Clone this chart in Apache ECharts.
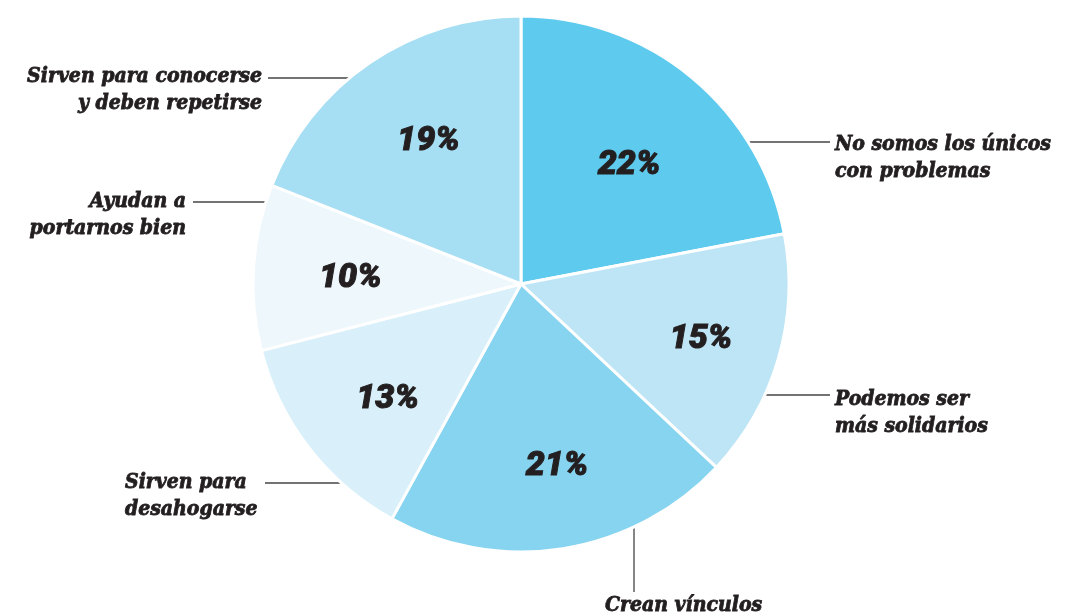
<!DOCTYPE html>
<html>
<head>
<meta charset="utf-8">
<script src="https://cdn.jsdelivr.net/npm/echarts@6/dist/echarts.min.js"></script>
<style>
  html, body { margin: 0; padding: 0; background: #ffffff; }
  #chart { width: 1065px; height: 614px; }
</style>
</head>
<body>
<div id="chart"></div>
<script>
// Answers, clockwise from 12 o'clock
const categories = [
  'No somos los únicos\ncon problemas',
  'Podemos ser\nmás solidarios',
  'Crean vínculos',
  'Sirven para\ndesahogarse',
  'Ayudan a\nportarnos bien',
  'Sirven para conocerse\ny deben repetirse'
];
const shares = [22, 15, 21, 13, 10, 19];
const sliceColors = ['#5ecbee', '#bee5f6', '#86d4f0', '#d9f0fa', '#eef7fc', '#a6def3'];

// Pie geometry
const CX = 521, CY = 284, R = 268;

// Where each caption sits and where its leader line runs
const captionPlacement = [
  { x: 835, y: 158, align: 'left',  line: 'h', at: 142, end: 830 },
  { x: 835, y: 413, align: 'left',  line: 'h', at: 395, end: 830 },
  { x: 605, y: 606, align: 'left',  line: 'v', at: 634, end: 592 },
  { x: 125, y: 496, align: 'left',  line: 'h', at: 483, end: 265 },
  { x: 186, y: 215, align: 'right', line: 'h', at: 202, end: 193 },
  { x: 262, y: 90,  align: 'right', line: 'h', at: 78,  end: 268 }
];

// Nudges for the percentage labels inside the slices
const percentOffsets = [[-6, 19], [8, 6], [8, 6], [8, 6], [8, 6], [8, 6]];

const captionFont = '"DejaVu Serif Condensed", "DejaVu Serif", serif';
const inkColor = '#231f20';

const pieData = categories.map((name, i) => ({
  name: name,
  value: shares[i],
  itemStyle: { color: sliceColors[i] }
}));

function leaderPoints(p) {
  if (p.line === 'v') {
    const dx = p.at - CX;
    const yEdge = CY + Math.sqrt(R * R - dx * dx);
    return [[p.at, yEdge], [p.at, (yEdge + p.end) / 2], [p.at, p.end]];
  }
  const dy = p.at - CY;
  const half = Math.sqrt(R * R - dy * dy);
  const xEdge = p.end > CX ? CX + half : CX - half;
  return [[xEdge, p.at], [(xEdge + p.end) / 2, p.at], [p.end, p.at]];
}

const chart = echarts.init(document.getElementById('chart'), null, { renderer: 'canvas' });

chart.setOption({
  backgroundColor: '#ffffff',
  animation: false,
  series: [
    {
      type: 'pie',
      center: [CX, CY],
      radius: [0, R],
      startAngle: 90,
      clockwise: true,
      silent: true,
      data: pieData,
      itemStyle: { borderColor: '#ffffff', borderWidth: 3 },
      label: {
        show: true,
        position: 'outside',
        formatter: '{b}',
        fontFamily: captionFont,
        fontStyle: 'italic',
        fontWeight: 'bold',
        fontSize: 21,
        lineHeight: 27,
        color: inkColor,
        textBorderColor: inkColor,
        textBorderWidth: 0.8
      },
      labelLine: {
        show: true,
        lineStyle: { color: '#444444', width: 1.3 }
      },
      labelLayout: function (params) {
        const p = captionPlacement[params.dataIndex];
        return {
          x: p.x,
          y: p.y,
          align: p.align,
          verticalAlign: 'middle',
          labelLinePoints: leaderPoints(p)
        };
      },
      emphasis: { disabled: true }
    },
    {
      // transparent ring that carries the percentage labels
      type: 'pie',
      center: [CX, CY],
      radius: [84, R],
      startAngle: 90,
      clockwise: true,
      silent: true,
      data: categories.map((name, i) => ({
        name: name,
        value: shares[i],
        label: { offset: percentOffsets[i] }
      })),
      itemStyle: { color: 'rgba(0,0,0,0)', borderWidth: 0 },
      label: {
        show: true,
        position: 'inside',
        formatter: '{c}%',
        fontFamily: 'Roboto, "Noto Sans", sans-serif',
        fontStyle: 'italic',
        fontWeight: 900,
        fontSize: 34,
        color: inkColor,
        textBorderColor: inkColor,
        textBorderWidth: 1
      },
      labelLine: { show: false },
      emphasis: { disabled: true }
    }
  ]
});
</script>
</body>
</html>
